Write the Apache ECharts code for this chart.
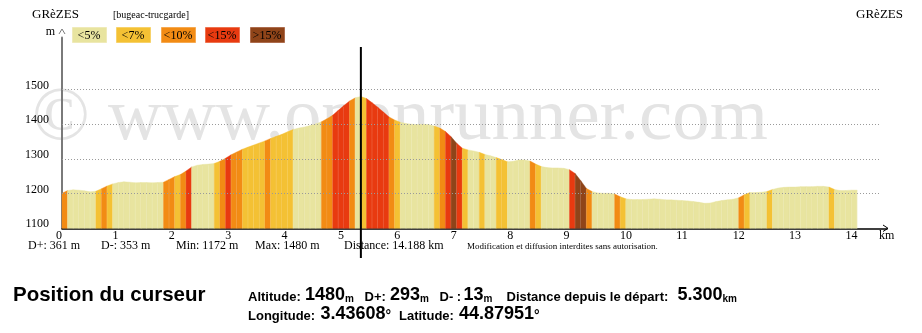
<!DOCTYPE html>
<html>
<head>
<meta charset="utf-8">
<script src="https://cdn.jsdelivr.net/npm/echarts@6/dist/echarts.min.js"></script>
<style>
  html, body { margin: 0; padding: 0; background: #fff; }
  #chart { width: 922px; height: 333px; }
</style>
</head>
<body>
<div id="chart"></div>
<script>
// Distance along the route (km), one sample every 100 m
const dist = [
  0, 0.1, 0.2, 0.3, 0.4, 0.5, 0.6, 0.7, 0.8, 0.9,
  1, 1.1, 1.2, 1.3, 1.4, 1.5, 1.6, 1.7, 1.8, 1.9,
  2, 2.1, 2.2, 2.3, 2.4, 2.5, 2.6, 2.7, 2.8, 2.9,
  3, 3.1, 3.2, 3.3, 3.4, 3.5, 3.6, 3.7, 3.8, 3.9,
  4, 4.1, 4.2, 4.3, 4.4, 4.5, 4.6, 4.7, 4.8, 4.9,
  5, 5.1, 5.2, 5.3, 5.4, 5.5, 5.6, 5.7, 5.8, 5.9,
  6, 6.1, 6.2, 6.3, 6.4, 6.5, 6.6, 6.7, 6.8, 6.9,
  7, 7.1, 7.2, 7.3, 7.4, 7.5, 7.6, 7.7, 7.8, 7.9,
  8, 8.1, 8.2, 8.3, 8.4, 8.5, 8.6, 8.7, 8.8, 8.9,
  9, 9.1, 9.2, 9.3, 9.4, 9.5, 9.6, 9.7, 9.8, 9.9,
  10, 10.1, 10.2, 10.3, 10.4, 10.5, 10.6, 10.7, 10.8, 10.9,
  11, 11.1, 11.2, 11.3, 11.4, 11.5, 11.6, 11.7, 11.8, 11.9,
  12, 12.1, 12.2, 12.3, 12.4, 12.5, 12.6, 12.7, 12.8, 12.9,
  13, 13.1, 13.2, 13.3, 13.4, 13.5, 13.6, 13.7, 13.8, 13.9,
  14, 14.1
];

// Altitude (m) at each sample
const elev = [
  1201, 1209, 1211, 1210, 1208, 1205, 1207, 1214, 1222, 1228,
  1232, 1234, 1233, 1231, 1232, 1232, 1231, 1232, 1233, 1241,
  1249, 1255, 1265, 1277, 1282, 1284, 1285, 1287, 1293, 1302,
  1312, 1320, 1328, 1334, 1340, 1346, 1352, 1359, 1365, 1371,
  1378, 1385, 1389, 1392, 1396, 1401, 1407, 1416, 1426, 1440,
  1454, 1467, 1476, 1480, 1474, 1462, 1449, 1435, 1421, 1412,
  1406, 1402, 1400, 1399, 1400, 1399, 1395, 1389, 1379, 1364,
  1345, 1331, 1326, 1323, 1319, 1313, 1309, 1304, 1298, 1292,
  1293, 1297, 1297, 1294, 1285, 1278, 1275, 1274, 1274, 1273,
  1269, 1258, 1237, 1215, 1206, 1202, 1201, 1201, 1199, 1191,
  1185, 1183, 1183, 1183, 1184, 1185, 1184, 1182, 1182, 1181,
  1180, 1179, 1177, 1175, 1172, 1173, 1177, 1180, 1182, 1184,
  1188, 1197, 1203, 1203, 1204, 1206, 1212, 1216, 1218, 1219,
  1219, 1220, 1220, 1220, 1221, 1221, 1219, 1212, 1209, 1209,
  1210, 1210
];

// Slope class of each 100 m stretch (0: <5%, 1: <7%, 2: <10%, 3: <15%, 4: >15%)
const slopeClass = [
  2, 0, 0, 0, 0, 0, 1, 2, 1, 0,
  0, 0, 0, 0, 0, 0, 0, 0, 2, 2,
  1, 2, 3, 0, 0, 0, 0, 1, 2, 3,
  2, 2, 1, 1, 1, 1, 2, 1, 1, 1,
  1, 0, 0, 0, 0, 0, 2, 2, 3, 3,
  3, 2, 0, 1, 3, 3, 3, 3, 2, 1,
  0, 0, 0, 0, 0, 0, 1, 2, 3, 4,
  3, 1, 0, 0, 1, 0, 0, 1, 1, 0,
  0, 0, 0, 2, 1, 0, 0, 0, 0, 0,
  3, 4, 4, 2, 0, 0, 0, 0, 2, 1,
  0, 0, 0, 0, 0, 0, 0, 0, 0, 0,
  0, 0, 0, 0, 0, 0, 0, 0, 0, 0,
  2, 1, 0, 0, 0, 1, 0, 0, 0, 0,
  0, 0, 0, 0, 0, 0, 1, 0, 0, 0,
  0
];

const classLabels = ['<5%', '<7%', '<10%', '<15%', '>15%'];
const classColors = ['#e8e49f', '#f4c134', '#f28b14', '#e83a10', '#8f4419'];
const classBorders = ['#efeab8', '#f7d26a', '#f6a950', '#ee7350', '#ad6c4d'];

const xTicks = [0, 1, 2, 3, 4, 5, 6, 7, 8, 9, 10, 11, 12, 13, 14];
const yTicks = [1100, 1200, 1300, 1400, 1500];
const gridValues = [1200, 1300, 1400, 1500];

const startName = 'GRèZES';
const endName = 'GRèZES';
const routeName = '[bugeac-trucgarde]';

const statsTexts = ['D+: 361 m', 'D-: 353 m', 'Min: 1172 m', 'Max: 1480 m', 'Distance: 14.188 km'];
const notice = 'Modification et diffusion interdites sans autorisation.';

// Cursor readout
const cursorKm = 5.3;
const cursorAlt = 1480;
const cursorDplus = 293;
const cursorDminus = 13;
const cursorDist = '5.300';
const cursorLon = '3.43608';
const cursorLat = '44.87951';

const yMin = 1100, yMax = 1650;
const xMax = 14.63;
const gridEndKm = 14.49;

const SERIF = '"Liberation Serif", "Times New Roman", serif';
const SANS = '"Liberation Sans", Arial, sans-serif';

const segments = slopeClass.map((c, i) => [dist[i], elev[i], dist[i + 1], elev[i + 1], c]);

const chart = echarts.init(document.getElementById('chart'), null, { renderer: 'canvas' });

function renderStripe(params, api) {
  const x0 = api.value(0), y0 = api.value(1), x1 = api.value(2), y1 = api.value(3);
  const c = api.value(4);
  const p0 = api.coord([x0, y0]);
  const p1 = api.coord([x1, y1]);
  const b0 = api.coord([x0, yMin]);
  const b1 = api.coord([x1, yMin]);
  return {
    type: 'group',
    children: [
      {
        type: 'polygon',
        shape: { points: [b0, p0, p1, b1] },
        style: { fill: classColors[c], stroke: classColors[c], lineWidth: 0.4 }
      },
      {
        type: 'line',
        shape: { x1: p1[0], y1: p1[1] + 1.5, x2: b1[0], y2: b1[1] },
        style: { stroke: 'rgba(255,255,255,0.28)', lineWidth: 1 }
      }
    ]
  };
}

const option = {
  animation: false,
  backgroundColor: '#fff',
  grid: {
    left: 62, right: 922 - 887, top: 37.5, bottom: 333 - 228.3,
    containLabel: false, outerBoundsMode: 'none'
  },
  xAxis: {
    type: 'value', min: 0, max: xMax, interval: 1,
    axisLine: { show: true, onZero: false, lineStyle: { color: '#000', width: 1.5 } },
    axisTick: { show: false },
    splitLine: { show: false },
    axisLabel: {
      formatter: v => (xTicks.includes(v) ? String(v) : ''),
      color: '#000', fontFamily: SERIF, fontSize: 12,
      margin: 2, align: 'left', padding: [0, 0, 0, -6]
    }
  },
  yAxis: {
    type: 'value', min: yMin, max: yMax, interval: 100,
    axisLine: { show: true, lineStyle: { color: '#7a7a7a', width: 2 } },
    axisTick: { show: false },
    splitLine: { show: false },
    axisLabel: {
      formatter: v => (yTicks.includes(v) ? String(v) : ''),
      color: '#000', fontFamily: SERIF, fontSize: 12,
      margin: 13, verticalAlign: 'bottom', lineHeight: 8
    }
  },
  series: [
    {
      type: 'line',
      z: 1,
      data: [[0, yMin], [0.01, yMin]],
      showSymbol: false,
      lineStyle: { width: 0, opacity: 0 },
      silent: true,
      markLine: {
        silent: true,
        symbol: 'none',
        label: { show: false },
        lineStyle: { type: [1, 2], color: '#9a9a9a', width: 1 },
        data: gridValues.map(v => [{ coord: [0, v] }, { coord: [gridEndKm, v] }])
      }
    },
    {
      type: 'custom',
      z: 3,
      renderItem: renderStripe,
      encode: { x: [0, 2], y: [1, 3] },
      data: segments,
      silent: true
    }
  ]
};

chart.setOption(option);

// Decorations, titles and the cursor readout
const cursorX = chart.convertToPixel({ xAxisIndex: 0 }, cursorKm);
const graphics = [];

// Watermark
graphics.push({
  type: 'text', z: -10, x: 32, y: 157.5,
  style: { text: '©', font: 'normal 76px ' + SERIF, fill: '#e4e4e4', verticalAlign: 'bottom' }
});
graphics.push({
  type: 'text', z: -10, x: 108, y: 157,
  style: { text: 'www.openrunner.com', font: 'normal 74.8px ' + SERIF, fill: '#e4e4e4', verticalAlign: 'bottom' }
});

// Titles
graphics.push({ type: 'text', x: 32, y: 15, style: { text: startName, font: 'normal 13px ' + SERIF, fill: '#000', verticalAlign: 'middle' } });
graphics.push({ type: 'text', x: 113, y: 15.5, style: { text: routeName, font: 'normal 10px ' + SERIF, fill: '#000', verticalAlign: 'middle' } });
graphics.push({ type: 'text', x: 903, y: 15, style: { text: endName, font: 'normal 13px ' + SERIF, fill: '#000', align: 'right', verticalAlign: 'middle' } });

// Slope legend
const legendX = [72, 116, 161, 205, 250];
classLabels.forEach((label, i) => {
  graphics.push({
    type: 'rect', shape: { x: legendX[i] + 0.5, y: 27.5, width: 34, height: 15 },
    style: { fill: classColors[i], stroke: classBorders[i], lineWidth: 1 }
  });
  graphics.push({
    type: 'text', x: legendX[i] + 17, y: 35.5,
    style: { text: label, font: 'normal 12px ' + SERIF, fill: '#000', align: 'center', verticalAlign: 'middle' }
  });
});

// Axis unit marks and arrows
graphics.push({ type: 'text', x: 55, y: 32, style: { text: 'm', font: 'normal 12px ' + SERIF, fill: '#000', align: 'right', verticalAlign: 'middle' } });
graphics.push({ type: 'polyline', shape: { points: [[59, 34], [62, 29], [65, 34]] }, style: { stroke: '#7a7a7a', lineWidth: 1, fill: null } });
graphics.push({ type: 'polyline', shape: { points: [[883, 225], [888, 228.3], [883, 231.5]] }, style: { stroke: '#000', lineWidth: 1, fill: null } });
graphics.push({ type: 'text', x: 879, y: 236, style: { text: 'km', font: 'normal 12px ' + SERIF, fill: '#000', verticalAlign: 'middle' } });

// Summary line under the axis
const statsX = [28, 101, 176, 255, 344];
statsTexts.forEach((t, i) => {
  graphics.push({ type: 'text', x: statsX[i], y: 246, style: { text: t, font: 'normal 12px ' + SERIF, fill: '#000', verticalAlign: 'middle' } });
});
graphics.push({ type: 'text', x: 467, y: 246.5, style: { text: notice, font: 'normal 9px ' + SERIF, fill: '#000', verticalAlign: 'middle' } });

// Cursor line
graphics.push({
  type: 'line', z: 50,
  shape: { x1: cursorX, y1: 47, x2: cursorX, y2: 258 },
  style: { stroke: '#000', lineWidth: 2 }
});

// Cursor readout panel
graphics.push({ type: 'text', x: 13, y: 295, style: { text: 'Position du curseur', font: 'bold 20.5px ' + SANS, fill: '#000', verticalAlign: 'middle' } });

const richStyles = {
  l: { font: 'bold 13px ' + SANS, fill: '#000', verticalAlign: 'bottom' },
  v: { font: 'bold 18px ' + SANS, fill: '#000', verticalAlign: 'bottom' },
  u: { font: 'bold 10px ' + SANS, fill: '#000', verticalAlign: 'bottom' },
  d: { font: 'bold 14px ' + SANS, fill: '#000', verticalAlign: 'bottom' }
};
function readout(x, bottomY, label) {
  graphics.push({
    type: 'text', x: x, y: bottomY,
    style: { text: '{l|' + label + '}', verticalAlign: 'bottom', rich: richStyles }
  });
}
function readValue(x, bottomY, value, unit, unitStyle) {
  graphics.push({
    type: 'text', x: x, y: bottomY,
    style: { text: '{v|' + value + '}{' + (unitStyle || 'u') + '|' + unit + '}', verticalAlign: 'bottom', rich: richStyles }
  });
}
const row1 = 304, row2 = 323;
readout(248, row1, 'Altitude:');
readValue(305, row1, String(cursorAlt), 'm');
readout(364.5, row1, 'D+:');
readValue(390, row1, String(cursorDplus), 'm');
readout(439.5, row1, 'D- :');
readValue(463.5, row1, String(cursorDminus), 'm');
readout(506.5, row1, 'Distance depuis le départ:');
readValue(677.5, row1, cursorDist, 'km');
readout(248, row2, 'Longitude:');
readValue(320.5, row2, cursorLon, '°', 'd');
readout(399, row2, 'Latitude:');
readValue(459, row2, cursorLat, '°', 'd');

chart.setOption({ graphic: { elements: graphics } });
</script>
</body>
</html>
